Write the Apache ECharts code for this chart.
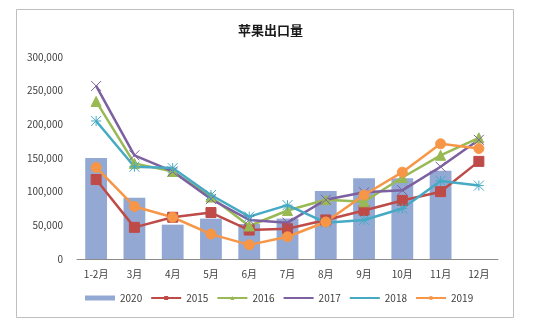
<!DOCTYPE html>
<html><head><meta charset="utf-8">
<script src="https://cdn.jsdelivr.net/npm/echarts@6/dist/echarts.min.js"></script>
<style>html,body{margin:0;padding:0;background:#fff}#c{width:541px;height:324px}</style>
</head><body><div id="c"></div>
<script>
const categories = ['1-2月','3月','4月','5月','6月','7月','8月','9月','10月','11月','12月'];
const yTicks = [0, 50000, 100000, 150000, 200000, 250000, 300000];
const s2020 = [150000, 91000, 51000, 60000, 52000, 60000, 101000, 120000, 120000, 131000, null];
const s2015 = [118000, 47000, 62000, 69000, 43000, 45000, 58000, 72000, 87000, 100000, 145000];
const s2016 = [234000, 142000, 130000, 92000, 49000, 72000, 88000, 85000, 121000, 154000, 180000];
const s2017 = [257000, 154000, 130000, 89000, 58000, 54000, 88000, 99000, 102000, 137000, 177000];
const s2018 = [205000, 137000, 135000, 95000, 63000, 80000, 54000, 58000, 75000, 116000, 109000];
const s2019 = [136000, 78000, 62000, 37000, 21000, 33000, 55000, 95000, 129000, 171000, 164000];

const font = '"Noto Sans CJK SC", "Liberation Sans", sans-serif';
const chart = echarts.init(document.getElementById('c'));
function line(name, data, color, symbol, size) {
  return {
    name, type: 'line', data, symbol, symbolSize: size,
    lineStyle: { color, width: 2.5 }, itemStyle: { color, borderColor: color },
    emphasis: { disabled: true }
  };
}
chart.setOption({
  animation: false,
  graphic: [{ type: 'rect', shape: { x: 16.5, y: 9.5, width: 497, height: 308 },
    style: { fill: 'none', stroke: '#bfbfbf', lineWidth: 1 } }],
  title: { text: '苹果出口量', left: 'center', top: 19,
    textStyle: { fontFamily: font, fontSize: 13, fontWeight: 'bold', color: '#1a1a1a' } },
  grid: { left: 77, right: 43, top: 57, bottom: 65 },
  legend: {
    bottom: 16, left: 80, itemWidth: 30, itemHeight: 5, itemGap: 8,
    textStyle: { fontFamily: font, fontSize: 10, color: '#404040' },
    data: [{ name: '2020', icon: 'rect' }, '2015', '2016', '2017', '2018', '2019']
  },
  xAxis: {
    type: 'category', data: categories, boundaryGap: true,
    axisLine: { lineStyle: { color: '#8c8c8c', width: 1 } },
    axisTick: { show: false },
    axisLabel: { fontFamily: font, fontSize: 10, color: '#404040', margin: 10 }
  },
  yAxis: {
    type: 'value', min: yTicks[0], max: yTicks[yTicks.length - 1], interval: 50000,
    splitLine: { show: false }, axisLine: { show: false }, axisTick: { show: false },
    axisLabel: { fontFamily: font, fontSize: 10, color: '#404040', margin: 14,
      formatter: v => v.toLocaleString('en-US') }
  },
  series: [
    { name: '2020', type: 'bar', data: s2020, barWidth: '57%',
      itemStyle: { color: '#93A9D4' }, emphasis: { disabled: true } },
    line('2015', s2015, '#BE4B48', 'rect', 10),
    line('2016', s2016, '#98B954', 'triangle', 10),
    line('2017', s2017, '#7D60A0', 'path://M0,0L2,2M2,0L0,2', 10),
    line('2018', s2018, '#46AAC5', 'path://M0,1L2,1M1,0L1,2M0,0L2,2M2,0L0,2', 10),
    line('2019', s2019, '#F79646', 'circle', 10)
  ]
});
</script></body></html>
